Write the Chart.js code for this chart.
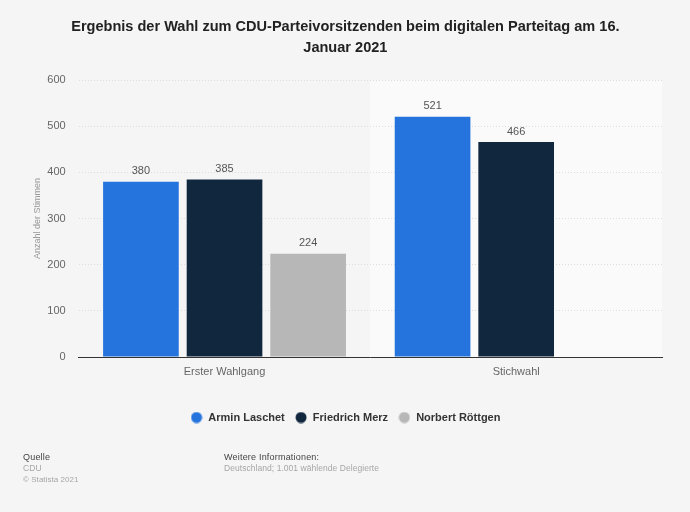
<!DOCTYPE html>
<html lang="de">
<head>
<meta charset="utf-8">
<title>CDU-Parteivorsitz 2021</title>
<script src="https://cdn.jsdelivr.net/npm/chart.js@4"></script>
<style>
  html, body { margin: 0; padding: 0; background: #f5f5f5; }
  #wrap { position: relative; width: 690px; height: 512px; overflow: hidden; font-family: "Liberation Sans", Arial, sans-serif; }
  #chart { position: absolute; left: 0; top: 0; }
  .note { position: absolute; font-size: 8.5px; line-height: 11px; color: #a6a6a6; white-space: nowrap; letter-spacing: 0.05px; }
  .note b { font-weight: normal; font-size: 9px; color: #444; letter-spacing: 0.2px; }
  .note span { font-size: 8px; }
</style>
</head>
<body>
<div id="wrap">
  <canvas id="chart" width="690" height="512"></canvas>
  <div class="note" style="left:23px;top:452px"><b>Quelle</b><br>CDU<br><span>© Statista 2021</span></div>
  <div class="note" style="left:224px;top:452px"><b>Weitere Informationen:</b><br>Deutschland; 1.001 wählende Delegierte</div>
</div>
<script>
const categories = ['Erster Wahlgang', 'Stichwahl'];
const laschet = [380, 521];
const merz = [385, 466];
const roettgen = [224, null];
const seriesNames = ['Armin Laschet', 'Friedrich Merz', 'Norbert Röttgen'];
const yTicks = [0, 100, 200, 300, 400, 500, 600];
const fontFamily = '"Liberation Sans", Arial, sans-serif';

// legend dot, as a small canvas so it stays round with a wider legend box
function legendDot(color) {
  const dot = document.createElement('canvas');
  dot.width = 12;
  dot.height = 12;
  const ctx = dot.getContext('2d');
  ctx.fillStyle = color;
  ctx.beginPath();
  ctx.arc(6, 6, 5.5, 0, Math.PI * 2);
  ctx.fill();
  return dot;
}

// light band behind the second category
const bandPlugin = {
  id: 'band',
  beforeDraw(chart) {
    const { ctx, chartArea, scales } = chart;
    const mid = scales.x.left + scales.x.width / 2;
    ctx.save();
    ctx.fillStyle = '#fafafa';
    ctx.fillRect(mid, chartArea.top, chartArea.right - mid, chartArea.bottom - chartArea.top);
    ctx.restore();
  }
};

// value labels above the bars
const valueLabels = {
  id: 'valueLabels',
  afterDatasetsDraw(chart) {
    const { ctx } = chart;
    ctx.save();
    ctx.font = '11px ' + fontFamily;
    ctx.fillStyle = '#555';
    ctx.textAlign = 'center';
    ctx.textBaseline = 'bottom';
    chart.data.datasets.forEach((ds, i) => {
      chart.getDatasetMeta(i).data.forEach((bar, j) => {
        if (ds.data[j] === null) return;
        ctx.fillText(ds.data[j], bar.x, bar.y - 5);
      });
    });
    ctx.restore();
  }
};

new Chart(document.getElementById('chart'), {
  type: 'bar',
  data: {
    labels: categories,
    datasets: [
      { label: seriesNames[0], data: laschet, backgroundColor: '#2574de', pointStyle: legendDot('#2574de') },
      { label: seriesNames[1], data: merz, backgroundColor: '#10273e', pointStyle: legendDot('#10273e') },
      { label: seriesNames[2], data: roettgen, backgroundColor: '#b7b7b7', pointStyle: legendDot('#b7b7b7') }
    ]
  },
  options: {
    responsive: false,
    animation: false,
    devicePixelRatio: 1,
    barPercentage: 0.905,
    categoryPercentage: 0.86,
    layout: { padding: { left: 28.7, right: 28, top: 16, bottom: 79 } },
    scales: {
      x: {
        afterFit(axis) { axis.height = 45; },
        grid: { display: false },
        border: { color: '#333', width: 1 },
        ticks: { color: '#666', font: { size: 11, family: fontFamily }, padding: 0, maxRotation: 0 }
      },
      y: {
        min: 0,
        max: 600,
        afterBuildTicks(axis) { axis.ticks = yTicks.map(v => ({ value: v })); },
        afterFit(axis) { axis.width = 50; },
        grid: { color: '#ddd', drawTicks: false },
        border: { display: false, dash: [1, 2] },
        ticks: { color: '#666', font: { size: 11, family: fontFamily }, padding: 13 },
        title: { display: true, text: 'Anzahl der Stimmen', color: '#999', font: { size: 9, family: fontFamily }, padding: { top: 3, bottom: 0 } }
      }
    },
    plugins: {
      title: {
        display: true,
        text: ['Ergebnis der Wahl zum CDU-Parteivorsitzenden beim digitalen Parteitag am 16.', 'Januar 2021'],
        color: '#222',
        font: { size: 14.55, weight: 'bold', family: fontFamily, lineHeight: 1.45 },
        padding: { top: 0, bottom: 22 }
      },
      legend: {
        position: 'bottom',
        labels: {
          usePointStyle: true,
          boxHeight: 8,
          pointStyleWidth: 12.6,
          color: '#333',
          font: { size: 11, weight: 'bold', family: fontFamily },
          padding: 10
        }
      },
      tooltip: { enabled: false }
    }
  },
  plugins: [bandPlugin, valueLabels]
});
</script>
</body>
</html>
